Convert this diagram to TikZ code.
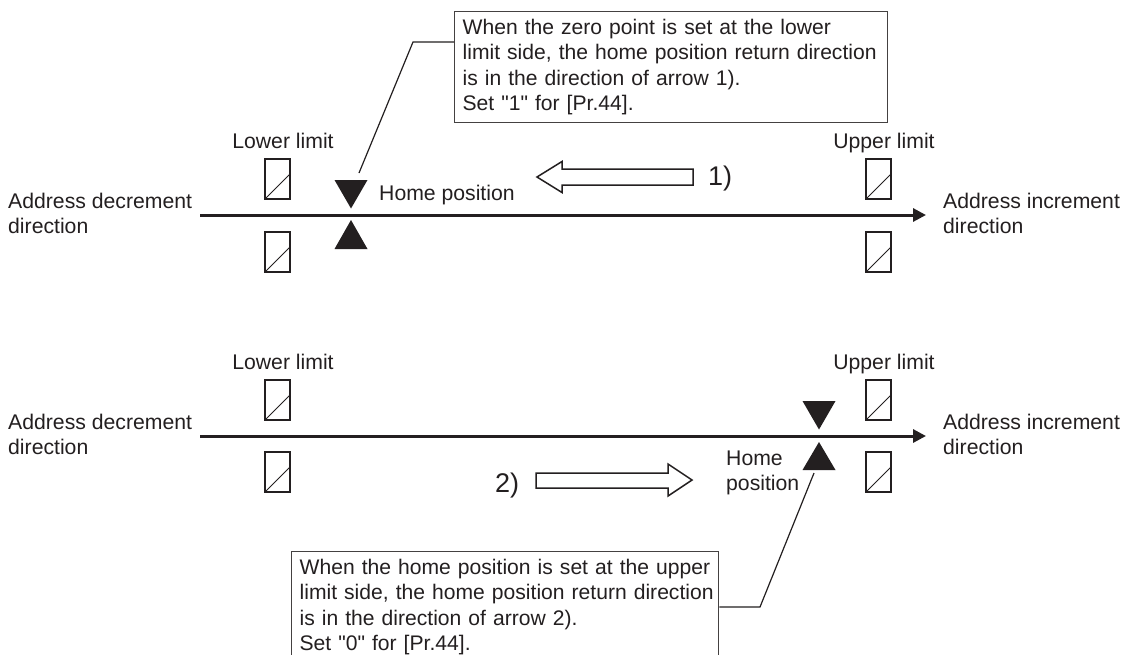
\documentclass[tikz,border=0pt]{standalone}
\usepackage{fontspec}
\setmainfont{Liberation Sans}[Ligatures=TeXOff]
\usetikzlibrary{arrows.meta}
\definecolor{ink}{HTML}{231F20}
\tikzset{
  lbl/.style={inner sep=0pt, text=ink, font=\fontsize{21.2}{25.3}\selectfont},
  mlbl/.style={lbl, align=left},
  numlbl/.style={inner sep=0pt, text=ink, font=\fontsize{27}{30}\selectfont},
  callout/.style={draw=ink!85, line width=1.3pt, inner xsep=8pt, inner ysep=7.5pt,
    align=left, text=ink, font=\fontsize{21.1}{25.3}\selectfont},
  axis/.style={line width=3pt, ink, -{Triangle[length=13pt,width=13pt]}},
  limbox/.style={draw=ink, line width=2.2pt},
  limdiag/.style={ink, line width=1pt},
  leader/.style={ink, line width=1.2pt},
  hollow/.style={draw=ink, line width=1.5pt, fill=white, line join=miter},
  tri/.style={fill=ink},
}
\newcommand{\limitbox}[2]{%
  \draw[limbox] (#1,#2) rectangle ++(25,40);
  \draw[limdiag] (#1,#2) ++(0,40) -- ++(25,-25);
}
\begin{document}
\begin{tikzpicture}[x=1pt,y=-1pt]
\useasboundingbox (0,0) rectangle (1124,654);
\clip (0,0) rectangle (1124,654);
\fill[white] (0,0) rectangle (1124,654);

%% ---------------- upper diagram ----------------
\coordinate (a1s) at (200,215);
\coordinate (a1e) at (926,215);
\draw[axis] (a1s) -- (a1e);

\node[lbl, anchor=base] (ll1) at (283,148) {Lower limit};
\node[lbl, anchor=base] (ul1) at (884,148) {Upper limit};
\limitbox{265}{159}
\limitbox{265}{232}
\limitbox{866}{159}
\limitbox{866}{232}

\node[mlbl, anchor=north west] (ad1) at (8,192.8) {Address decrement\\direction};
\node[mlbl, anchor=north west] (ai1) at (943,192.8) {Address increment\\direction};

% home position triangles
\fill[tri] (334.5,180) -- (367.5,180) -- (351,208.5) -- cycle;
\fill[tri] (334.5,249) -- (367.5,249) -- (351,220) -- cycle;
\node[lbl, anchor=base west] (hp1) at (379,200) {Home position};

% hollow arrow 1)
\draw[hollow] (537,177) -- (562,161.5) -- (562,169) -- (693,169) -- (693,185)
  -- (562,185) -- (562,192.5) -- cycle;
\node[numlbl, anchor=base west] (n1) at (708,185) {1)};

% callout 1
\node[callout, anchor=north west, text width=417pt] (c1) at (454,11)
  {\mbox{When the zero point is set at the lower}\\
   \mbox{limit side, the home position return direction}\\
   \mbox{is in the direction of arrow 1).}\\
   \mbox{Set "1" for [Pr.44].}};
\coordinate (k1) at (413,42);
\coordinate (k1e) at (359,173);
\draw[leader] (c1.north west |- k1) -- (k1) -- (k1e);

%% ---------------- lower diagram ----------------
\coordinate (a2s) at (200,436);
\coordinate (a2e) at (926,436);
\draw[axis] (a2s) -- (a2e);

\node[lbl, anchor=base] (ll2) at (283,369) {Lower limit};
\node[lbl, anchor=base] (ul2) at (884,369) {Upper limit};
\limitbox{265}{380}
\limitbox{265}{452}
\limitbox{866}{380}
\limitbox{866}{452}

\node[mlbl, anchor=north west] (ad2) at (8,413.8) {Address decrement\\direction};
\node[mlbl, anchor=north west] (ai2) at (943,413.8) {Address increment\\direction};

% home position triangles
\fill[tri] (802.5,401) -- (835.5,401) -- (819,429.5) -- cycle;
\fill[tri] (802.5,470) -- (835.5,470) -- (819,442) -- cycle;
\node[mlbl, anchor=north west] (hp2) at (726,450.8) {Home\\position};

% hollow arrow 2)
\draw[hollow] (536,473) -- (668,473) -- (668,464) -- (692,480) -- (668,496)
  -- (668,488) -- (536,488) -- cycle;
\node[numlbl, anchor=base west] (n2) at (495,492) {2)};

% callout 2
\node[callout, anchor=north west, text width=411pt] (c2) at (291,551)
  {\mbox{When the home position is set at the upper}\\
   \mbox{limit side, the home position return direction}\\
   \mbox{is in the direction of arrow 2).}\\
   \mbox{Set "0" for [Pr.44].}};
\coordinate (k2) at (760,607);
\coordinate (k2e) at (814,473);
\draw[leader] (c2.north east |- k2) -- (k2) -- (k2e);
\end{tikzpicture}
\end{document}
